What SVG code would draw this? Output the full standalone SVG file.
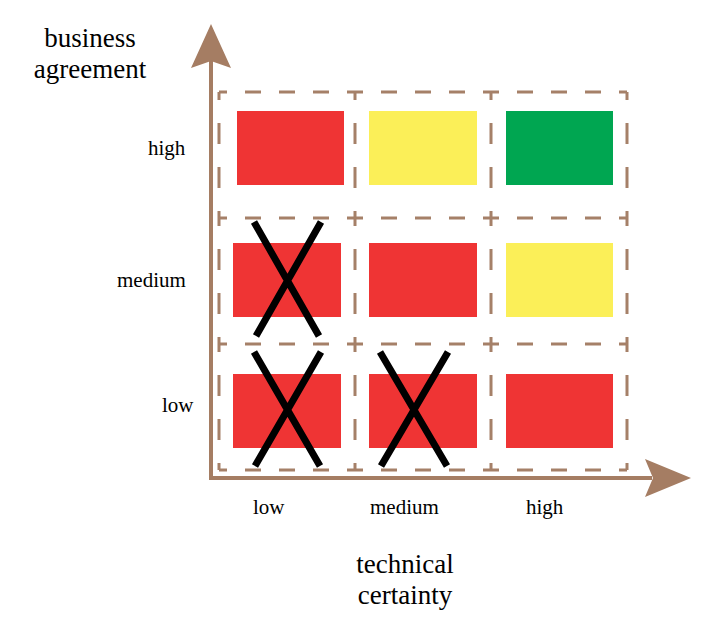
<svg xmlns="http://www.w3.org/2000/svg" width="720" height="632" viewBox="0 0 720 632">
<style>
.lbl{fill:#000}
.big{font-size:27px}
.sm{font-size:21px}
.axis{stroke:#a57d63;stroke-width:4;fill:none}
.head{fill:#a57d63}
.dh{stroke:#a58068;stroke-width:3;stroke-dasharray:16 18;stroke-dashoffset:8;fill:none}
.dv{stroke:#a58068;stroke-width:3;stroke-dasharray:21 23;stroke-dashoffset:13;fill:none}
.red{fill:#ef3434}
.yel{fill:#fbef58}
.grn{fill:#00a651}
.x{stroke:#000;stroke-width:7;stroke-linecap:butt}
</style>
<rect width="720" height="632" fill="#fff"/>
<g id="axes">
<path class="axis" d="M211,60 V478 H652"/>
<path class="head" d="M211,24 L231,68 L211,61 L191,68 Z"/>
<path class="head" d="M691,478 L645,497 L653,478 L645,459 Z"/>
</g>
<g id="grid">
<path class="dh" d="M219,92 H355 M355,92 H491 M491,92 H627"/>
<path class="dh" d="M219,218 H355 M355,218 H491 M491,218 H627"/>
<path class="dh" d="M219,344 H355 M355,344 H491 M491,344 H627"/>
<path class="dh" d="M219,470 H355 M355,470 H491 M491,470 H627"/>
<path class="dv" d="M219,92 V218 M219,218 V344 M219,344 V470"/>
<path class="dv" d="M355,92 V218 M355,218 V344 M355,344 V470"/>
<path class="dv" d="M491,92 V218 M491,218 V344 M491,344 V470"/>
<path class="dv" d="M627,92 V218 M627,218 V344 M627,344 V470"/>
</g>
<g id="cell-high-low"><rect class="red" x="237" y="111" width="107" height="74"/></g>
<g id="cell-high-medium"><rect class="yel" x="369" y="111" width="108" height="74"/></g>
<g id="cell-high-high"><rect class="grn" x="506" y="111" width="107" height="74"/></g>
<g id="cell-medium-low"><rect class="red" x="233" y="243" width="108" height="74"/><path class="x" d="M254,222 L319,336 M321,222 L256,336"/></g>
<g id="cell-medium-medium"><rect class="red" x="369" y="243" width="108" height="74"/></g>
<g id="cell-medium-high"><rect class="yel" x="506" y="243" width="107" height="74"/></g>
<g id="cell-low-low"><rect class="red" x="233" y="374" width="108" height="74"/><path class="x" d="M254,352 L320,466 M321,352 L255,466"/></g>
<g id="cell-low-medium"><rect class="red" x="369" y="374" width="108" height="74"/><path class="x" d="M380,352 L447,466 M448,352 L381,466"/></g>
<g id="cell-low-high"><rect class="red" x="506" y="374" width="107" height="74"/></g>
<g id="labels" font-family="'Liberation Serif', 'DejaVu Serif', serif">
<text class="lbl big" x="90" y="47" text-anchor="middle">business</text>
<text class="lbl big" x="90" y="78" text-anchor="middle">agreement</text>
<text class="lbl big" x="405" y="573" text-anchor="middle">technical</text>
<text class="lbl big" x="405" y="604" text-anchor="middle">certainty</text>
<text class="lbl sm" x="148" y="155">high</text>
<text class="lbl sm" x="117" y="287">medium</text>
<text class="lbl sm" x="162" y="412">low</text>
<text class="lbl sm" x="253" y="514">low</text>
<text class="lbl sm" x="370" y="514">medium</text>
<text class="lbl sm" x="526" y="514">high</text>
</g>
</svg>
